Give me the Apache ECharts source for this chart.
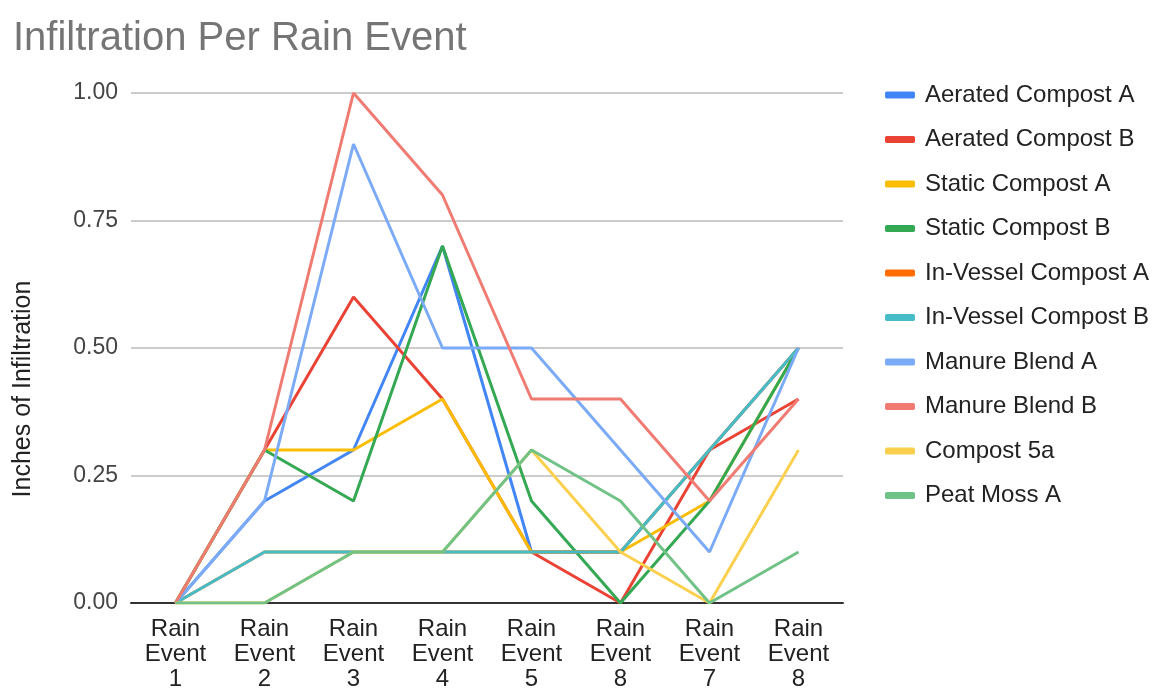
<!DOCTYPE html>
<html>
<head>
<meta charset="utf-8">
<title>Infiltration Per Rain Event</title>
<script src="https://cdn.jsdelivr.net/npm/echarts@6/dist/echarts.min.js"></script>
<style>
  html, body { margin: 0; padding: 0; background: #fff; }
  #chart { width: 1155px; height: 692px; }
</style>
</head>
<body>
<div id="chart"></div>
<script>
// Rain event labels (events 6 and 8 both read "8" in the source sheet)
const categories = [
  'Rain\nEvent\n1', 'Rain\nEvent\n2', 'Rain\nEvent\n3', 'Rain\nEvent\n4',
  'Rain\nEvent\n5', 'Rain\nEvent\n8', 'Rain\nEvent\n7', 'Rain\nEvent\n8'
];

const yTicks = [0, 0.25, 0.5, 0.75, 1];

// Inches of infiltration per treatment
const aeratedCompostA   = [0, 0.2, 0.3, 0.7, 0.1, 0.1, 0.3, 0.5];
const aeratedCompostB   = [0, 0.3, 0.6, 0.4, 0.1, 0.0, 0.3, 0.4];
const staticCompostA    = [0, 0.3, 0.3, 0.4, 0.1, 0.1, 0.2, 0.5];
const staticCompostB    = [0, 0.3, 0.2, 0.7, 0.2, 0.0, 0.2, 0.5];
const inVesselCompostA  = [0, 0.1, 0.1, 0.1, 0.1, 0.1, 0.3, 0.5];
const inVesselCompostB  = [0, 0.1, 0.1, 0.1, 0.1, 0.1, 0.3, 0.5];
const manureBlendA      = [0, 0.2, 0.9, 0.5, 0.5, 0.3, 0.1, 0.5];
const manureBlendB      = [0, 0.3, 1.0, 0.8, 0.4, 0.4, 0.2, 0.4];
const compost5a         = [0, 0.0, 0.1, 0.1, 0.3, 0.1, 0.0, 0.3];
const peatMossA         = [0, 0.0, 0.1, 0.1, 0.3, 0.2, 0.0, 0.1];

const seriesNames = [
  'Aerated Compost A', 'Aerated Compost B', 'Static Compost A', 'Static Compost B',
  'In-Vessel Compost A', 'In-Vessel Compost B', 'Manure Blend A', 'Manure Blend B',
  'Compost 5a', 'Peat Moss A'
];
const seriesValues = [
  aeratedCompostA, aeratedCompostB, staticCompostA, staticCompostB,
  inVesselCompostA, inVesselCompostB, manureBlendA, manureBlendB,
  compost5a, peatMossA
];
const palette = [
  '#4285F4', '#EA4335', '#FBBC04', '#34A853', '#FF6D01',
  '#46BDC6', '#7BAAF7', '#F07B72', '#FCD04F', '#71C287'
];

const FONT = 'Arial, "Liberation Sans", sans-serif';

const chart = echarts.init(document.getElementById('chart'), null, { renderer: 'canvas' });

chart.setOption({
  animation: false,
  color: palette,
  textStyle: { fontFamily: FONT },
  title: {
    text: 'Infiltration Per Rain Event',
    left: 8,
    top: 14,
    textStyle: { fontFamily: FONT, fontSize: 40, fontWeight: 'normal', color: '#757575' }
  },
  legend: {
    orient: 'vertical',
    left: 880,
    top: 78,
    itemWidth: 30,
    itemHeight: 7,
    itemGap: 20.5,
    icon: 'roundRect',
    textStyle: { fontFamily: FONT, fontSize: 24, color: '#222', lineHeight: 24, padding: [0, 0, 0, 5] },
    data: seriesNames
  },
  grid: { left: 131, right: 312, top: 93, bottom: 84, containLabel: false },
  xAxis: {
    type: 'category',
    data: categories,
    boundaryGap: true,
    axisLine: { lineStyle: { color: '#333', width: 2 } },
    axisTick: { show: false },
    axisLabel: {
      interval: 0,
      margin: 14,
      fontFamily: FONT,
      fontSize: 24,
      lineHeight: 25,
      color: '#222'
    }
  },
  yAxis: {
    type: 'value',
    min: yTicks[0],
    max: yTicks[yTicks.length - 1],
    interval: yTicks[1] - yTicks[0],
    name: 'Inches of Infiltration',
    nameLocation: 'middle',
    nameGap: 95,
    nameTextStyle: { fontFamily: FONT, fontSize: 25, color: '#222', padding: [0, 82, 0, 0] },
    axisLine: { show: false },
    axisTick: { show: false },
    splitLine: { lineStyle: { color: '#cccccc', width: 2 } },
    axisLabel: {
      margin: 13,
      fontFamily: FONT,
      fontSize: 23,
      color: '#444',
      formatter: v => v.toFixed(2)
    }
  },
  series: seriesNames.map((name, i) => ({
    name: name,
    type: 'line',
    data: seriesValues[i],
    showSymbol: false,
    symbol: 'none',
    lineStyle: { width: 3 },
    emphasis: { disabled: true }
  }))
});
</script>
</body>
</html>
